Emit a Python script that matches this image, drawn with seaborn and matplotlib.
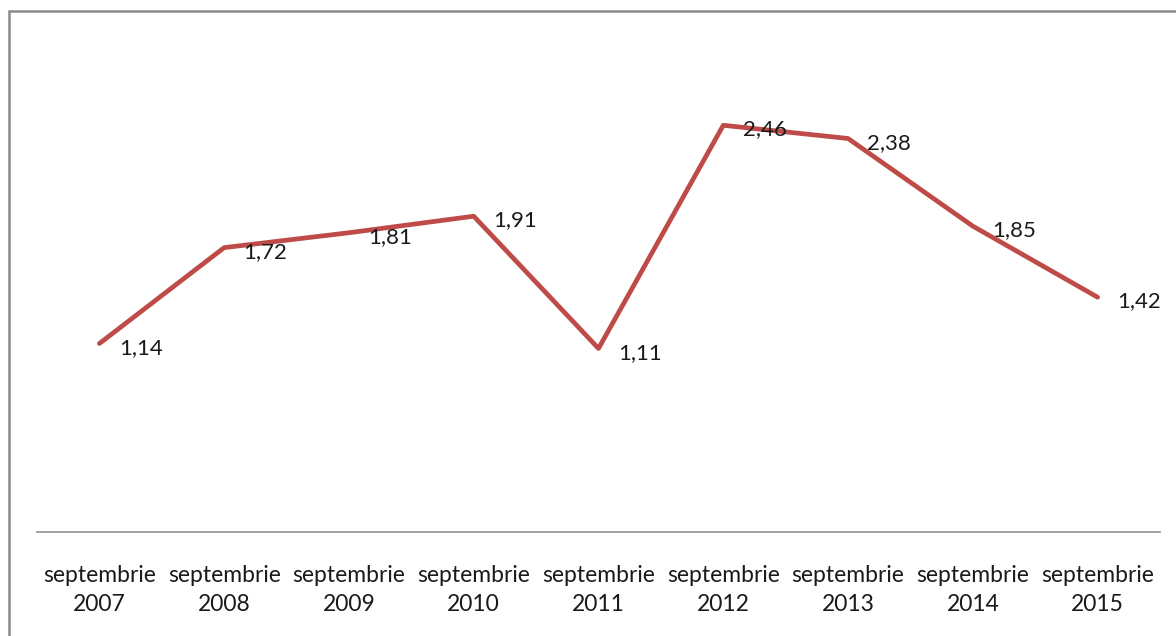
import matplotlib
matplotlib.use("Agg")
import matplotlib.pyplot as plt
import seaborn as sns
import pandas as pd
from matplotlib.patches import Rectangle

# --- DATE ---
luni = ["septembrie\n2007", "septembrie\n2008", "septembrie\n2009", "septembrie\n2010",
        "septembrie\n2011", "septembrie\n2012", "septembrie\n2013", "septembrie\n2014",
        "septembrie\n2015"]
valori = [1.14, 1.72, 1.81, 1.91, 1.11, 2.46, 2.38, 1.85, 1.42]

df = pd.DataFrame({"Luna": luni, "Valoare": valori})

sns.set_style("white")
plt.rcParams["font.family"] = ["Lato", "DejaVu Sans"]

fig = plt.figure(figsize=(11.76, 6.36), dpi=100)
ax = fig.add_axes([37 / 1176, 104 / 636, 1123 / 1176, 496 / 636])

sns.lineplot(data=df, x="Luna", y="Valoare", color="#BE4B48", linewidth=3.4,
             sort=False, ax=ax)

# etichete cu valori
for i, v in enumerate(valori):
    ax.annotate(f"{v:.2f}".replace(".", ","), (i, v), xytext=(14, -3),
                textcoords="offset points", ha="left", va="center",
                fontsize=16, color="#1a1a1a")

ax.set_ylim(0, 3)
ax.set_xlim(-0.5, len(luni) - 0.5)
ax.set_xlabel("")
ax.set_ylabel("")
ax.set_yticks([])
ax.tick_params(axis="x", length=0, pad=24, labelsize=16.5, labelcolor="#1a1a1a")
for lbl in ax.get_xticklabels():
    lbl.set_linespacing(1.45)
for s in ["top", "right", "left"]:
    ax.spines[s].set_visible(False)
ax.spines["bottom"].set_color("#9a9a9a")
ax.spines["bottom"].set_linewidth(1.3)

# chenar gri al graficului
fig.patches.append(Rectangle((9 / 1176, -0.1), 1.2, (636 - 11) / 636 + 0.1,
                             transform=fig.transFigure, fill=False,
                             edgecolor="#8a8a8a", linewidth=1.8))

fig.savefig("out.png", dpi=100)
